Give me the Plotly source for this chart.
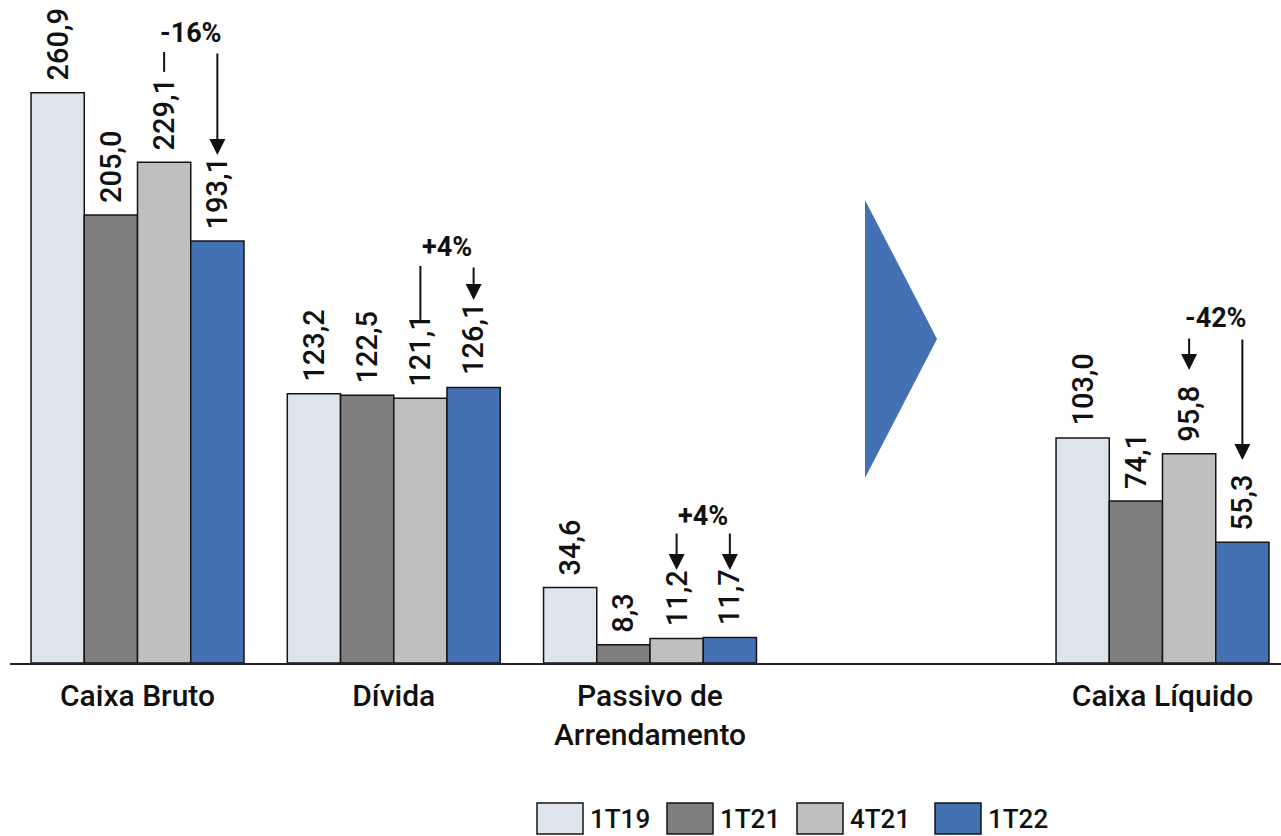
import plotly.graph_objects as go

# ---------------- data ----------------
categories = ["Caixa Bruto", "Dívida", "Passivo de<br>Arrendamento", "Caixa Líquido"]
cat_pos = [0, 1, 2, 4]          # slot 3 is left empty for the transition arrow
series_names = ["1T19", "1T21", "4T21", "1T22"]
v_1T19 = [260.9, 123.2, 34.6, 103.0]
v_1T21 = [205.0, 122.5, 8.3, 74.1]
v_4T21 = [229.1, 121.1, 11.2, 95.8]
v_1T22 = [193.1, 126.1, 11.7, 55.3]
series_values = [v_1T19, v_1T21, v_4T21, v_1T22]
colors = ["#DDE4EE", "#7F7F7F", "#BFBFBF", "#4371B4"]

pct_labels = ["-16%", "+4%", "+4%", "-42%"]

# ---------------- layout constants ----------------
W, H = 1281, 836
ML, MR, MT, MB = 10, 0, 0, 173
X_RANGE = [-0.4976, 4.4624]
Y_RANGE = [0, 303.4]
BARGAP = 0.169
FONT = "Roboto, 'Open Sans', sans-serif"
n = len(series_names)
bw = (1 - BARGAP) / n


def off(i):
    return -(1 - BARGAP) / 2 + (i + 0.5) * bw


def fmt(v):
    return f"{v:.1f}".replace(".", ",")


fig = go.Figure()
for i, (name, vals, col) in enumerate(zip(series_names, series_values, colors)):
    fig.add_trace(go.Bar(
        x=cat_pos, y=vals, name=name, showlegend=False, hoverinfo="skip",
        marker=dict(color=col, line=dict(color="#141414", width=1.5)),
    ))

annotations = []
# value labels (rotated)
for i, vals in enumerate(series_values):
    for c, v in zip(cat_pos, vals):
        annotations.append(dict(
            x=c + off(i), y=v, xref="x", yref="y", text=fmt(v), textangle=-90,
            showarrow=False, xanchor="center", yanchor="bottom", yshift=10,
            font=dict(family=FONT, size=29, color="#111", weight=500),
        ))

# change indicators: (text y, marker over 4T21 [y_top, y_bottom, arrow?], arrow over 1T22 [y_top, y_bottom])
indicators = [
    (288.3, (279.6, 270.5, False), (279.6, 232.5)),
    (190.4, (181.7, 157.0, False), (181.7, 166.1)),
    (67.3, (60.0, 42.6, True), (60.0, 42.6)),
    (157.9, (149.2, 134.1, True), (148.7, 92.9)),
]
shapes = []
for k, (c, txt, ind) in enumerate(zip(cat_pos, pct_labels, indicators)):
    ty, (a0, a1, a_arrow), (b0, b1) = ind
    xa = c + off(2)
    xb = c + off(3)
    annotations.append(dict(
        x=(xa + xb) / 2, y=ty, xref="x", yref="y", text=f"<b>{txt}</b>",
        showarrow=False, font=dict(family=FONT, size=27, color="#111"),
    ))
    if a_arrow:
        annotations.append(dict(x=xa, y=a1, ax=xa, ay=a0, xref="x", yref="y", axref="x", ayref="y",
                                text="", showarrow=True, arrowhead=2, arrowsize=1.6, arrowwidth=2,
                                arrowcolor="#111"))
    else:
        shapes.append(dict(type="line", xref="x", yref="y", x0=xa, x1=xa, y0=a0, y1=a1,
                           line=dict(color="#111", width=2)))
    annotations.append(dict(x=xb, y=b1, ax=xb, ay=b0, xref="x", yref="y", axref="x", ayref="y",
                            text="", showarrow=True, arrowhead=2, arrowsize=1.6, arrowwidth=2,
                            arrowcolor="#111"))

# big transition chevron
shapes.append(dict(type="path", xref="x", yref="y",
                   path="M 2.839 211.9 L 3.120 148.3 L 2.839 84.7 Z",
                   fillcolor="#4371B4", line=dict(width=0)))

# custom legend (large swatches)
def px_to_paper_x(px):
    return (px - ML) / (W - ML - MR)


def px_to_paper_y(py):
    return (H - MB - py) / (H - MT - MB)


legend_box_x = [537, 667, 797, 935]
for name, col, bx in zip(series_names, colors, legend_box_x):
    shapes.append(dict(type="rect", xref="paper", yref="paper",
                       x0=px_to_paper_x(bx), x1=px_to_paper_x(bx + 46),
                       y0=px_to_paper_y(834), y1=px_to_paper_y(803),
                       fillcolor=col, line=dict(color="#141414", width=1.5)))
    annotations.append(dict(x=px_to_paper_x(bx + 51), y=px_to_paper_y(819), xref="paper", yref="paper",
                            text=name, showarrow=False, xanchor="left", yanchor="middle",
                            font=dict(family=FONT, size=26, color="#111", weight=500)))

fig.update_layout(
    width=W, height=H,
    margin=dict(l=ML, r=MR, t=MT, b=MB, pad=0),
    plot_bgcolor="white", paper_bgcolor="white",
    barmode="group", bargap=BARGAP, bargroupgap=0,
    annotations=annotations, shapes=shapes,
    hovermode=False,
    xaxis=dict(range=X_RANGE, tickmode="array", tickvals=cat_pos, ticktext=categories,
               showline=True, linecolor="#222", linewidth=2, showgrid=False, zeroline=False,
               ticks="outside", ticklen=5, tickcolor="rgba(0,0,0,0)", fixedrange=True,
               tickfont=dict(family=FONT, size=30, color="#111", weight=500)),
    yaxis=dict(range=Y_RANGE, visible=False, showgrid=False, zeroline=False, fixedrange=True),
)

fig.write_html("out.html", config={"displayModeBar": False, "staticPlot": True},
               post_script="document.body.style.margin='0';document.body.style.overflow='hidden';")
